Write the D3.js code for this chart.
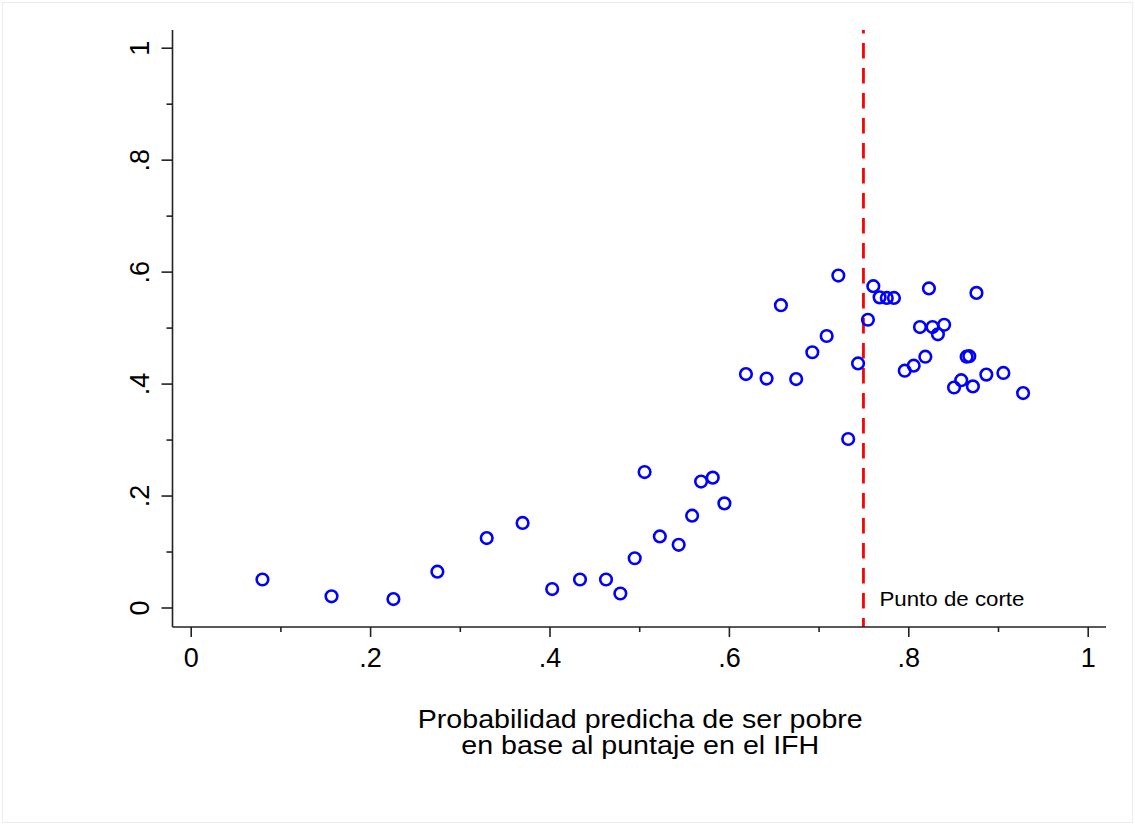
<!DOCTYPE html>
<html>
<head>
<meta charset="utf-8">
<script src="https://cdn.jsdelivr.net/npm/d3@7"></script>
<style>
  html, body { margin: 0; padding: 0; background: #fff; }
  svg text { font-family: "Liberation Sans", Arial, sans-serif; fill: #000; }
</style>
</head>
<body>
<svg id="chart" width="1135" height="825"></svg>
<script>
// ---- data ----
const probPredicha = [0.080,0.157,0.226,0.275,0.330,0.370,0.403,0.434,0.463,0.479,0.495,0.506,0.523,0.544,0.559,0.569,0.582,0.595,0.619,0.642,0.675,0.658,0.693,0.709,0.722,0.733,0.744,0.755,0.761,0.768,0.776,0.784,0.796,0.806,0.813,0.819,0.823,0.827,0.833,0.840,0.851,0.859,0.865,0.868,0.872,0.876,0.887,0.906,0.928];
const tasaPobreza = [0.050,0.020,0.015,0.064,0.124,0.151,0.033,0.050,0.050,0.025,0.088,0.242,0.127,0.112,0.164,0.225,0.232,0.186,0.417,0.409,0.408,0.540,0.456,0.485,0.593,0.301,0.436,0.514,0.574,0.554,0.553,0.553,0.423,0.432,0.501,0.448,0.570,0.501,0.488,0.505,0.393,0.406,0.448,0.449,0.395,0.562,0.416,0.419,0.383];
const puntoCorte = 0.75;
const puntoCorteLabel = "Punto de corte";
const xTicksMajor = [0, 0.2, 0.4, 0.6, 0.8, 1];
const xTicksMinor = [0.1, 0.3, 0.5, 0.7, 0.9];
const yTicksMajor = [0, 0.2, 0.4, 0.6, 0.8, 1];
const yTicksMinor = [0.1, 0.3, 0.5, 0.7, 0.9];
const xTitle = ["Probabilidad predicha de ser pobre", "en base al puntaje en el IFH"];

// ---- layout ----
const W = 1135, H = 825;
const plot = { left: 172.5, right: 1106, top: 30, bottom: 627 };
const titleWidths = [445, 358];
const svg = d3.select("#chart");

const x = d3.scaleLinear().domain([0, 1]).range([190.7, 1087.7]);
const y = d3.scaleLinear().domain([0, 1]).range([607.5, 47.7]);
const fmt = d => d === 0 ? "0" : d === 1 ? "1" : String(+d.toFixed(2)).replace(/^0\./, ".");

// outer faint border
svg.append("rect").attr("x", 2.5).attr("y", 2.5).attr("width", W - 5).attr("height", H - 5)
  .attr("fill", "none").attr("stroke", "#ececec").attr("stroke-width", 1);

// cutoff dashed line
svg.append("line")
  .attr("x1", x(puntoCorte)).attr("x2", x(puntoCorte))
  .attr("y1", plot.top).attr("y2", plot.bottom)
  .attr("stroke", "#ff0000").attr("stroke-width", 2.8)
  .attr("stroke-dasharray", "15.5,9.5").attr("stroke-dashoffset", 12);

svg.append("text")
  .attr("x", x(puntoCorte) + 16).attr("y", 606)
  .attr("font-size", 21)
  .attr("textLength", 145).attr("lengthAdjust", "spacingAndGlyphs")
  .text(puntoCorteLabel);

// axes
const xAxisMajor = d3.axisBottom(x).tickValues(xTicksMajor).tickSize(10).tickPadding(11).tickFormat(fmt);
const xAxisMinor = d3.axisBottom(x).tickValues(xTicksMinor).tickSize(5).tickFormat("");
const gx = svg.append("g").attr("transform", `translate(0,${plot.bottom})`);
gx.append("g").call(xAxisMajor);
gx.append("g").call(xAxisMinor);
gx.selectAll(".domain").remove();
gx.append("line").attr("x1", plot.left).attr("x2", plot.right).attr("y1", 0).attr("y2", 0);
gx.selectAll("line").attr("stroke", "#222").attr("stroke-width", 1.6);
gx.selectAll("text").attr("font-size", 27).attr("font-family", "Liberation Sans, Arial, sans-serif").attr("fill", "#000");

const yAxisMajor = d3.axisLeft(y).tickValues(yTicksMajor).tickSize(11).tickFormat(fmt);
const yAxisMinor = d3.axisLeft(y).tickValues(yTicksMinor).tickSize(6).tickFormat("");
const gy = svg.append("g").attr("transform", `translate(${plot.left},0)`);
gy.append("g").call(yAxisMajor);
gy.append("g").call(yAxisMinor);
gy.selectAll(".domain").remove();
gy.append("line").attr("x1", 0).attr("x2", 0).attr("y1", plot.top).attr("y2", plot.bottom);
gy.selectAll("line").attr("stroke", "#222").attr("stroke-width", 1.6);
gy.selectAll(".tick text")
  .attr("x", null).attr("dy", null)
  .attr("text-anchor", "middle")
  .attr("transform", "translate(-24,0) rotate(-90)")
  .attr("font-size", 27).attr("font-family", "Liberation Sans, Arial, sans-serif").attr("fill", "#000");

// points
svg.append("g").selectAll("circle")
  .data(probPredicha.map((p, i) => [p, tasaPobreza[i]]))
  .join("circle")
  .attr("cx", d => x(d[0])).attr("cy", d => y(d[1]))
  .attr("r", 5.8)
  .attr("fill", "none").attr("stroke", "#0000ff").attr("stroke-width", 2.6);

// x title
const cx = (plot.left + plot.right) / 2 + 1;
svg.append("g").selectAll("text").data(xTitle).join("text")
  .attr("text-anchor", "middle").attr("font-size", 25)
  .attr("x", cx).attr("y", (d, i) => 728 + i * 26)
  .attr("textLength", (d, i) => titleWidths[i]).attr("lengthAdjust", "spacingAndGlyphs")
  .text(d => d);
</script>
</body>
</html>
